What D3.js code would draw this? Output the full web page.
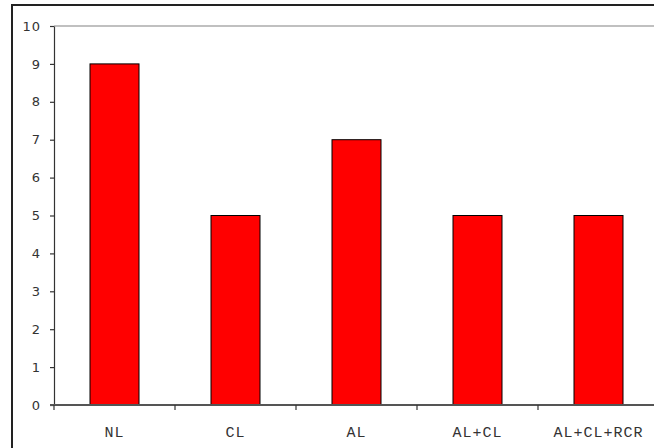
<!DOCTYPE html>
<html>
<head>
<meta charset="utf-8">
<script src="https://cdn.jsdelivr.net/npm/d3@7"></script>
<style>
  html, body { margin: 0; padding: 0; background: #fff; overflow: hidden; }
  svg { display: block; }
</style>
</head>
<body>
<svg id="chart" width="654" height="448"></svg>
<script>
// Groups and their counts
const categories = ["NL", "CL", "AL", "AL+CL", "AL+CL+RCR"];
const counts = [9, 5, 7, 5, 5];
const yTicks = [0, 1, 2, 3, 4, 5, 6, 7, 8, 9, 10];

const svg = d3.select("#chart");

// Plot area (extends slightly past the right edge of the window)
const plotLeft = 54, plotRight = 659, plotTop = 26, plotBottom = 405;

// Outer frame
svg.append("rect")
  .attr("x", 12).attr("y", 5)
  .attr("width", 700).attr("height", 500)
  .attr("fill", "#fff")
  .attr("stroke", "#222").attr("stroke-width", 2);

const x = d3.scaleBand().domain(categories).range([plotLeft, plotRight]).paddingInner(0).paddingOuter(0);
const y = d3.scaleLinear().domain([0, 10]).range([plotBottom, plotTop]);

// Top gridline
svg.append("line")
  .attr("x1", plotLeft).attr("x2", 700)
  .attr("y1", y(10)).attr("y2", y(10))
  .attr("stroke", "#c0c0c0").attr("stroke-width", 2);

// Bars
const barW = 49;
svg.append("g").selectAll("rect")
  .data(categories)
  .join("rect")
  .attr("x", d => x(d) + x.bandwidth() / 2 - barW / 2)
  .attr("y", (d, i) => y(counts[i]))
  .attr("width", barW)
  .attr("height", (d, i) => y(0) - y(counts[i]))
  .attr("fill", "#ff0000")
  .attr("stroke", "#000").attr("stroke-width", 1);

// Y axis: line and ticks
const yAxis = svg.append("g")
  .attr("transform", `translate(${plotLeft},0)`)
  .call(d3.axisLeft(y).tickValues(yTicks).tickSize(4).tickFormat("").tickSizeOuter(0));
yAxis.select(".domain").attr("stroke", "#333").attr("stroke-width", 1.2);
yAxis.selectAll(".tick line").attr("stroke", "#333").attr("stroke-width", 1.2);

// Y tick labels
svg.append("g").selectAll("text")
  .data(yTicks)
  .join("text")
  .attr("x", plotLeft - 13)
  .attr("y", d => y(d))
  .attr("dy", "0.36em")
  .attr("text-anchor", "end")
  .attr("fill", "#333")
  .attr("font-family", "DejaVu Sans")
  .attr("font-size", "13px")
  .attr("letter-spacing", "1px")
  .text(d => d);

// X axis: baseline and ticks on category boundaries
const xAxis = svg.append("g")
  .attr("transform", `translate(0,${plotBottom})`);
xAxis.append("line")
  .attr("x1", plotLeft - 4).attr("x2", 700)
  .attr("y1", 0).attr("y2", 0)
  .attr("stroke", "#555").attr("stroke-width", 2);
const boundaries = categories.map(d => x(d)).concat([x(categories[categories.length - 1]) + x.bandwidth()]);
xAxis.selectAll("line.tk")
  .data(boundaries)
  .join("line")
  .attr("class", "tk")
  .attr("x1", d => d).attr("x2", d => d)
  .attr("y1", 0).attr("y2", 5)
  .attr("stroke", "#333").attr("stroke-width", 1.2);

// Category labels
xAxis.selectAll("text.xlab")
  .data(categories)
  .join("text")
  .attr("class", "xlab")
  .attr("x", d => x(d) + x.bandwidth() / 2)
  .attr("y", 32)
  .attr("text-anchor", "middle")
  .attr("fill", "#333")
  .attr("font-family", "Liberation Mono")
  .attr("font-size", "15px")
  .attr("letter-spacing", "1px")
  .text(d => d);
</script>
</body>
</html>
